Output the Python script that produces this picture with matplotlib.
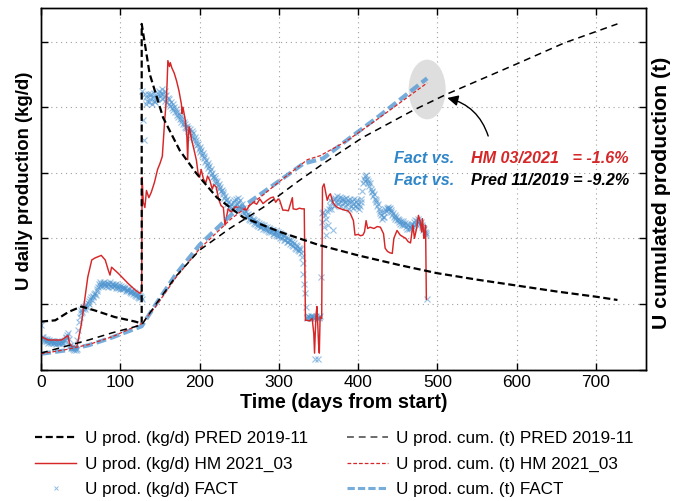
import matplotlib
matplotlib.use('Agg')
import matplotlib.pyplot as plt
from matplotlib.patches import Ellipse
from matplotlib.lines import Line2D
import numpy as np

plt.rcParams['font.family'] = ['Liberation Sans', 'DejaVu Sans']

# ---------------- data (axis units: 1 tick = 1 unit, labels hidden) ----------------
pred_day_days = [0, 18, 35, 51, 68, 93, 119, 127, 127, 137, 154, 175, 196, 222, 255,
                 301, 350, 400, 453, 499, 550, 600, 650, 700, 727]
pred_day_vals = [0.73, 0.75, 0.88, 0.96, 0.90, 0.80, 0.73, 0.70, 5.27, 4.51, 3.84, 3.34, 2.99, 2.62, 2.32,
                 2.10, 1.90, 1.74, 1.59, 1.47, 1.37, 1.28, 1.19, 1.11, 1.06]

hm_day_days = [0, 9, 26, 32, 34, 36, 39, 43, 45, 47, 51, 55, 59, 64, 68, 72, 76, 81, 85, 87, 89, 98,
               110, 119, 125, 127, 127.5, 129, 131, 133, 136, 139, 143, 147, 150, 153, 156, 158, 159,
               160, 162, 163, 165, 168, 171, 174, 177, 178, 179, 182, 184, 185, 186, 187, 190, 193,
               196, 198, 200, 202, 205, 208, 210, 213, 216, 218, 221, 224, 227, 230, 232, 234, 236,
               240, 245, 251, 255, 259, 263, 268, 272, 276, 280, 285, 290, 293, 296, 299, 301, 305,
               308, 312, 317, 318, 322, 326, 329, 332, 333.5, 336, 339, 342, 344, 345, 346, 347, 348,
               349, 350, 351, 352, 354, 355, 357, 359, 361, 363, 365, 368, 371, 374, 378, 383, 387,
               390, 394, 396, 400, 403, 406, 408, 410, 412, 415, 420, 424, 428, 432, 434, 437, 440,
               443, 445, 449, 453, 457, 460, 463, 466, 469, 471, 474, 476, 478, 480, 481, 483, 484,
               485, 486]
hm_day_vals = [0.50, 0.45, 0.45, 0.50, 0.52, 0.40, 0.35, 0.35, 0.33, 0.45, 0.70, 1.06, 1.41, 1.67, 1.70,
               1.72, 1.74, 1.67, 1.51, 1.44, 1.56, 1.46, 1.31, 1.21, 1.16, 1.20, 2.93, 2.55, 2.47, 2.73,
               2.62, 2.70, 2.85, 3.05, 3.14, 3.25, 3.80, 4.10, 4.36, 4.71, 4.62, 4.68, 4.60, 4.52, 4.40,
               4.25, 4.05, 3.90, 4.00, 3.80, 3.54, 3.20, 3.60, 3.70, 3.50, 3.35, 3.19, 3.00, 2.93, 3.05,
               2.90, 2.85, 2.95, 2.88, 2.75, 2.82, 2.78, 2.60, 2.50, 2.47, 2.20, 2.33, 2.45, 2.40, 2.48,
               2.47, 2.45, 2.43, 2.50, 2.55, 2.52, 2.60, 2.53, 2.58, 2.62, 2.63, 2.55, 2.60, 2.58, 2.43,
               2.43, 2.42, 2.62, 2.45, 2.44, 2.46, 2.45, 2.45, 0.75, 0.75, 0.74, 0.78, 0.55, 0.25, 0.60,
               0.85, 0.96, 0.70, 0.40, 0.25, 0.80, 0.78, 2.78, 2.83, 2.70, 2.58, 2.65, 2.68, 2.55, 2.50,
               2.47, 2.45, 2.43, 2.42, 2.38, 2.27, 2.05, 2.06, 2.04, 2.05, 2.10, 2.27, 2.15, 2.17, 2.15,
               2.18, 2.17, 2.07, 1.85, 1.80, 1.78, 1.77, 2.00, 2.12, 2.05, 2.02, 2.00, 1.95, 1.93, 2.20,
               2.00, 2.17, 2.35, 2.27, 2.10, 2.30, 2.00, 2.05, 2.20, 1.07]

# FACT daily values, one per day from day 0
fact_day_vals = [
    0.68, 0.50, 0.47, 0.50, 0.44, 0.47, 0.43, 0.46, 0.44, 0.41,
    0.45, 0.42, 0.44, 0.40, 0.43, 0.41, 0.44, 0.40, 0.42, 0.39,
    0.42, 0.40, 0.43, 0.40, 0.41, 0.42, 0.40, 0.43, 0.41, 0.44,
    0.45, 0.48, 0.50, 0.53, 0.55, 0.47, 0.38, 0.36, 0.33, 0.35,
    0.31, 0.34, 0.30, 0.33, 0.29, 0.32, 0.45, 0.60, 0.72, 0.80,
    0.86, 0.90, 0.88, 0.93, 0.95, 0.92, 0.97, 1.00, 0.96, 1.02,
    1.05, 1.00, 1.07, 1.10, 1.06, 1.12, 1.10, 1.15, 1.16, 1.13,
    1.20, 1.22, 1.26, 1.30, 1.33, 1.28, 1.31, 1.27, 1.32, 1.29,
    1.33, 1.31, 1.27, 1.32, 1.30, 1.26, 1.30, 1.33, 1.28, 1.30,
    1.26, 1.31, 1.28, 1.29, 1.25, 1.30, 1.27, 1.24, 1.29, 1.26,
    1.23, 1.27, 1.24, 1.26, 1.22, 1.25, 1.24, 1.20, 1.23, 1.21,
    1.19, 1.22, 1.18, 1.20, 1.17, 1.19, 1.15, 1.18, 1.14, 1.16,
    1.12, 1.15, 1.11, 1.13, 1.09, 1.12, 1.10, 1.08,
    4.25, 3.80, 3.50, 4.20, 4.05, 4.15, 4.10, 4.20, 4.08, 4.18,
    4.12, 4.20, 4.05, 4.15, 4.10, 4.22, 4.08, 4.16, 4.12, 4.20,
    4.14, 4.25, 4.18, 4.22, 4.12, 4.28, 4.20, 4.15, 4.24, 4.10,
    4.18, 4.08, 4.14, 4.05, 4.12, 4.02, 4.08, 3.98, 4.05, 3.95,
    4.00, 3.92, 3.97, 3.88, 3.93, 3.85, 3.90, 3.82, 3.86, 3.78,
    3.82, 3.74, 3.78, 3.70, 3.75, 3.68, 3.72, 3.64, 3.69, 3.62,
    3.66, 3.58, 3.63, 3.55, 3.60, 3.52, 3.55, 3.46, 3.50, 3.42,
    3.44, 3.36, 3.40, 3.32, 3.35, 3.27, 3.30, 3.22, 3.25, 3.17,
    3.20, 3.12, 3.15, 3.07, 3.10, 3.02, 3.05, 2.97, 3.00, 2.93,
    2.95, 2.88, 2.92, 2.84, 2.87, 2.80, 2.83, 2.76, 2.79, 2.72,
    2.74, 2.67, 2.70, 2.62, 2.65, 2.58, 2.60, 2.52, 2.55, 2.48,
    2.50, 2.44, 2.52, 2.46, 2.55, 2.48, 2.58, 2.50, 2.60, 2.52,
    2.56, 2.62, 2.50, 2.58, 2.45, 2.52, 2.40, 2.47, 2.38, 2.42,
    2.35, 2.40, 2.33, 2.37, 2.30, 2.34, 2.28, 2.32, 2.26, 2.30,
    2.24, 2.28, 2.22, 2.27, 2.20, 2.25, 2.19, 2.23, 2.18, 2.22,
    2.17, 2.21, 2.15, 2.20, 2.14, 2.18, 2.12, 2.17, 2.11, 2.16,
    2.10, 2.15, 2.09, 2.13, 2.07, 2.12, 2.06, 2.11, 2.05, 2.10,
    2.04, 2.09, 2.03, 2.08, 2.01, 2.06, 2.00, 2.05, 1.98, 2.03,
    1.97, 2.02, 1.95, 2.00, 1.94, 1.98, 1.92, 1.97, 1.90, 1.95,
    1.88, 1.93, 1.86, 1.90, 1.84, 1.88, 1.82, 1.86, 1.80, 1.83,
    1.78, 1.72, 1.62, 1.45, 1.30, 1.16, 0.95, 0.80, 0.78, 0.82,
    0.80, 0.78, 0.81, 0.79, 0.82, 0.80, 0.78, 0.16, 0.80, 0.82,
    0.79, 0.16, 0.80, 0.78, 0.81, 1.41, 2.38, 2.25, 2.40, 2.18,
    2.35, 2.05, 2.30, 2.42, 2.20, 2.45, 2.50, 2.58, 2.45, 2.55,
    2.12, 2.60, 2.50, 2.62, 2.55, 2.65, 2.52, 2.60, 2.56, 2.63,
    2.50, 2.58, 2.62, 2.54, 2.60, 2.48, 2.56, 2.62, 2.52, 2.58,
    2.45, 2.55, 2.60, 2.50, 2.57, 2.47, 2.53, 2.60, 2.50, 2.55,
    2.58, 2.48, 2.52, 2.45, 2.50, 2.55, 2.60, 2.72, 2.85, 2.90,
    2.95, 2.88, 2.96, 2.90, 2.84, 2.88, 2.80, 2.84, 2.75, 2.70,
    2.72, 2.65, 2.68, 2.60, 2.55, 2.58, 2.50, 2.53, 2.45, 2.42,
    2.38, 2.35, 2.30, 2.33, 2.32, 2.40, 2.45, 2.42, 2.47, 2.44,
    2.48, 2.45, 2.47, 2.40, 2.43, 2.36, 2.38, 2.33, 2.35, 2.30,
    2.32, 2.28, 2.30, 2.25, 2.28, 2.22, 2.26, 2.20, 2.24, 2.27,
    2.20, 2.23, 2.18, 2.22, 2.15, 2.20, 2.14, 2.18, 2.16, 2.20,
    2.22, 2.18, 2.25, 2.20, 2.28, 2.22, 2.26, 2.30, 2.24, 2.27,
    2.22, 2.25, 2.18, 2.20, 2.12, 2.15, 2.10, 2.08, 2.05, 1.07,
]

pred_cum_days = [0, 30, 60, 90, 127, 144, 170, 200, 238, 280, 322, 356, 406, 469, 512, 600, 660, 727]
pred_cum_vals = [0.25, 0.35, 0.45, 0.56, 0.68, 0.98, 1.42, 1.82, 2.15, 2.47, 2.85, 3.14, 3.54, 3.95,
                 4.20, 4.66, 4.98, 5.27]

hm_cum_days = [0, 30, 60, 90, 127, 144, 170, 200, 240, 280, 300, 336, 352, 385, 427, 487]
hm_cum_vals = [0.24, 0.30, 0.38, 0.50, 0.70, 0.95, 1.40, 1.84, 2.30, 2.66, 2.86, 3.20, 3.26, 3.48,
               3.84, 4.37]

fact_cum_days = [0, 30, 60, 90, 127, 144, 170, 200, 240, 280, 301, 331, 356, 385, 427, 487]
fact_cum_vals = [0.24, 0.29, 0.37, 0.49, 0.66, 0.98, 1.45, 1.90, 2.36, 2.70, 2.88, 3.14, 3.22, 3.49,
                 3.87, 4.44]

x_ticks = [0, 100, 200, 300, 400, 500, 600, 700]
y_ticks = [0, 1, 2, 3, 4, 5]

labels = ['U prod. (kg/d) PRED 2019-11', 'U prod. (kg/d) HM 2021_03', 'U prod. (kg/d) FACT',
          'U prod. cum. (t) PRED 2019-11', 'U prod. cum. (t) HM 2021_03', 'U prod. cum. (t) FACT']

RED = '#d62728'
BLUE = '#4a92cf'
BLUE_TXT = '#2f86c8'

# ---------------- figure ----------------
fig = plt.figure(figsize=(6.88, 5.01), dpi=100)
ax = fig.add_axes([41 / 688, 1 - 369.5 / 501, 605 / 688, 362 / 501])
ax2 = ax.twinx()

fact_days = np.arange(len(fact_day_vals))

l3, = ax.plot(fact_days, fact_day_vals, linestyle='none', marker='x', ms=4.8, mew=0.85,
              color=BLUE, alpha=0.55, zorder=2)
l2, = ax.plot(hm_day_days, hm_day_vals, color=RED, lw=1.05, zorder=3)
l1, = ax.plot(pred_day_days, pred_day_vals, color='black', lw=1.6, dashes=(3.2, 1.6), zorder=4)

e = Ellipse((487, 4.27), 46.7, 0.91, facecolor='#dedede', edgecolor='none', zorder=1)
ax2.add_patch(e)
l6, = ax2.plot(fact_cum_days, fact_cum_vals, color='#5599d3', lw=3, alpha=0.8, dashes=(2.4, 1.0), zorder=2)
l5, = ax2.plot(hm_cum_days, hm_cum_vals, color=RED, lw=0.9, dashes=(3, 1.6), zorder=3)
l4, = ax2.plot(pred_cum_days, pred_cum_vals, color='black', lw=1.1, dashes=(4.5, 3.2), zorder=4)

for a in (ax, ax2):
    a.set_xlim(0, 763)
    a.set_ylim(0, 5.52)
    a.set_yticks(y_ticks)
    a.set_yticklabels([])
    for s in a.spines.values():
        s.set_linewidth(1.0)

ax.set_xticks(x_ticks)
ax.tick_params(axis='x', direction='in', top=True, length=5, width=1, labelsize=12.5, pad=4)
ax.tick_params(axis='y', direction='in', left=True, right=False, length=5, width=1)
ax2.tick_params(axis='y', direction='in', right=True, length=5, width=1)
ax.grid(True, color='#a0a0a0', lw=0.8, linestyle=(0, (1, 3.4)))

ax.set_xlabel('Time (days from start)', fontsize=14.2, fontweight='bold', labelpad=2)
ax.set_ylabel('U daily production (kg/d)', fontsize=13.4, fontweight='bold')
ax.yaxis.set_label_coords(-0.013, 0.52)
ax2.set_ylabel('U cumulated production (t)', fontsize=15.3, fontweight='bold')
ax2.yaxis.set_label_coords(1.01, 0.488)

# annotation
ax2.annotate('', xy=(509, 4.15), xytext=(565, 3.52),
             arrowprops=dict(arrowstyle='-|>', color='black', lw=1,
                             connectionstyle='arc3,rad=0.3', mutation_scale=16))
tfs = 11.6
ax2.text(445.5, 3.21, 'Fact vs.', color=BLUE_TXT, fontsize=tfs, fontweight='bold', style='italic',
         ha='left', va='center')
ax2.text(542.7, 3.21, 'HM 03/2021   = -1.6%', color=RED, fontsize=tfs, fontweight='bold',
         style='italic', ha='left', va='center')
ax2.text(445.5, 2.88, 'Fact vs.', color=BLUE_TXT, fontsize=tfs, fontweight='bold', style='italic',
         ha='left', va='center')
ax2.text(542.7, 2.88, 'Pred 11/2019 = -9.2%', color='black', fontsize=tfs, fontweight='bold',
         style='italic', ha='left', va='center')

# legend
h4 = Line2D([], [], color='#444444', lw=1.1, dashes=(4.5, 3.2))
h6 = Line2D([], [], color='#5599d3', lw=2.2, alpha=0.8, dashes=(2.4, 1.0))
h3 = Line2D([], [], linestyle='none', marker='x', ms=3.5, mew=0.7, color=BLUE, alpha=0.6)
fig.legend([l1, l2, h3, h4, l5, h6], labels, ncol=2, loc='upper left',
           bbox_to_anchor=(35 / 688, 1 - 431 / 501), frameon=False, fontsize=12.3,
           handlelength=2.4, handletextpad=0.5, columnspacing=2.3, labelspacing=0.62,
           borderaxespad=0, borderpad=0, numpoints=1)

fig.savefig('out.png', dpi=100)
